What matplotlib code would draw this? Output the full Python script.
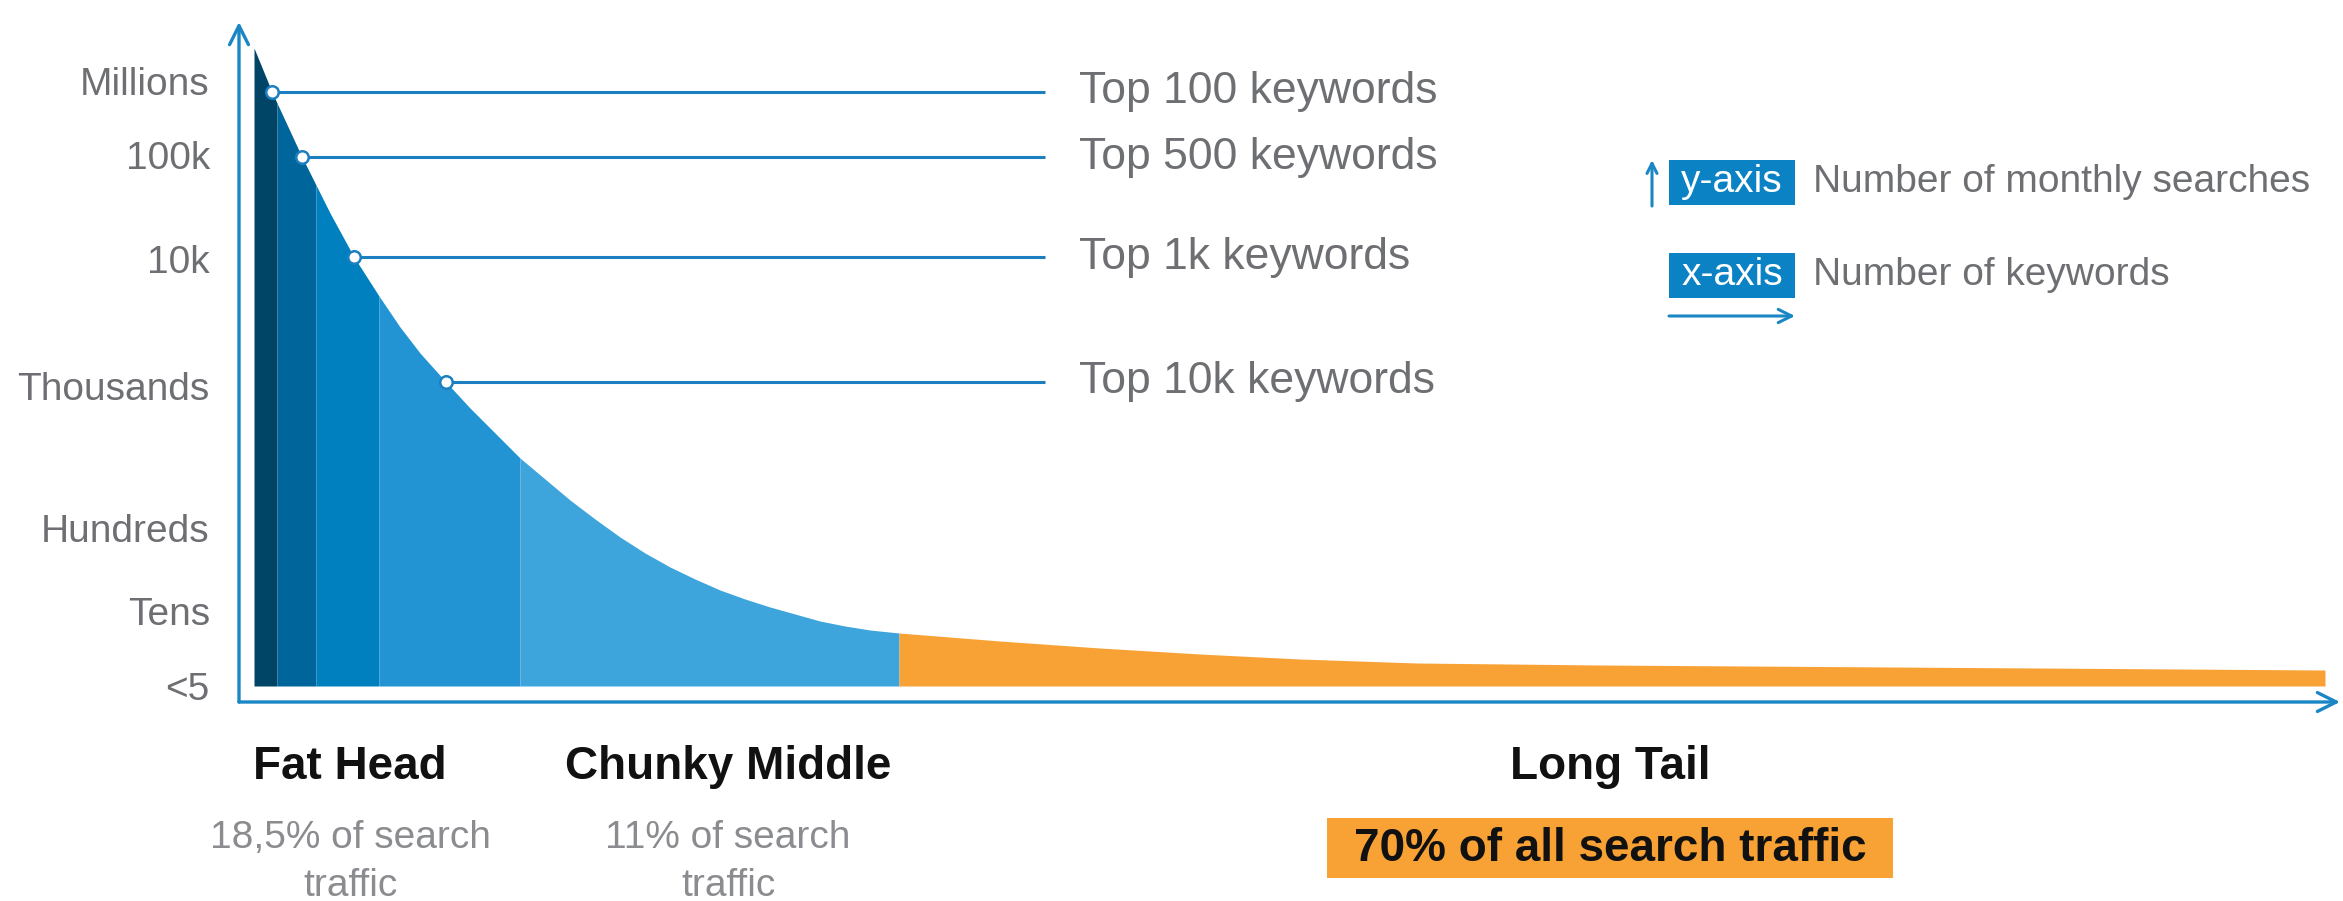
import matplotlib.pyplot as plt
from matplotlib.patches import Rectangle

plt.rcParams["font.family"] = ["Liberation Sans", "DejaVu Sans"]

# curve of searches per keyword (x: keywords, y: level above the x-axis)
curve_x = [15, 33, 38, 63, 77, 91, 115, 140, 161, 181, 207, 231, 256, 281, 306, 331,
           356, 381, 406, 431, 456, 481, 506, 531, 556, 581, 606, 631, 660,
           761, 861, 961, 1061, 1178, 1361, 1654, 2086]
curve_y = [654, 610, 599, 545, 517, 489, 445, 406, 375, 349, 320, 294, 269, 244, 223, 202,
           183, 165, 149, 135, 123, 112, 103, 95, 88, 81, 76, 72, 69,
           61, 54, 48, 43, 39, 37, 35, 32]
curve_base = 16

# coloured segments (start, end) along x
band_edges = [15, 38, 77, 140, 281, 660, 2086]
band_colors = ["#004466", "#00659a", "#0080bf", "#2394d3", "#3da4dc", "#f8a235"]

# y-axis levels
level_labels = ["<5", "Tens", "Hundreds", "Thousands", "10k", "100k", "Millions"]
level_pos = [16, 91, 174, 316, 443, 547, 621]

# keyword-group markers on the curve
marker_x = [33, 63, 115, 207]
marker_y = [610, 545, 445, 320]
marker_labels = ["Top 100 keywords", "Top 500 keywords", "Top 1k keywords", "Top 10k keywords"]

segment_names = ["Fat Head", "Chunky Middle", "Long Tail"]
segment_notes = ["18,5% of search\ntraffic", "11% of search\ntraffic", "70% of all search traffic"]

BLUE = "#1a86c4"
GRAY = "#6d6f72"
LIGHT_GRAY = "#8a8c8f"

W, H = 2343, 901
fig = plt.figure(figsize=(W / 100, H / 100), dpi=100)
fig.patch.set_facecolor("white")

# main chart axes: left edge at the y-axis line, bottom at the x-axis line
left, bottom, right, top = 239, 702, 2340, 22
ax = fig.add_axes([left / W, (H - bottom) / H, (right - left) / W, (bottom - top) / H])
ax.set_xlim(0, right - left)
ax.set_ylim(0, bottom - top)
for s in ax.spines.values():
    s.set_visible(False)
ax.set_xticks([])
ax.set_yticks(level_pos)
ax.set_yticklabels(level_labels, fontsize=28, color=GRAY)
ax.tick_params(axis="y", length=0, pad=21)

for i, c in enumerate(band_colors):
    a, b = band_edges[i], band_edges[i + 1]
    xs = [x for x in curve_x if a <= x <= b]
    ys = [y for x, y in zip(curve_x, curve_y) if a <= x <= b]
    ax.fill_between(xs, curve_base, ys, color=c, lw=0, zorder=2)

# axis arrows
arrow_kw = dict(arrowstyle="->", color=BLUE, lw=2.4, mutation_scale=34, shrinkA=0, shrinkB=0)
ax.annotate("", xy=(0, 1), xytext=(0, 0), xycoords="axes fraction",
            arrowprops=arrow_kw, annotation_clip=False)
ax.annotate("", xy=(1, 0), xytext=(0, 0), xycoords="axes fraction",
            arrowprops=arrow_kw, annotation_clip=False)

# leader lines with labels
line_end = 806
ax.hlines(marker_y, marker_x, line_end, color="#1b7fc0", lw=2.2, zorder=3)
ax.plot(marker_x, marker_y, "o", ms=9, mfc="white", mec="#1b7fc0", mew=1.8, zorder=4)
for y, lab in zip(marker_y, marker_labels):
    ax.text(840, y, lab, fontsize=32, color=GRAY, va="center", ha="left")

# overlay in pixel space for legend and captions
ov = fig.add_axes([0, 0, 1, 1])
ov.set_xlim(0, W)
ov.set_ylim(H, 0)
ov.axis("off")

# legend
small_arrow = dict(arrowstyle="->", color=BLUE, lw=2.2, shrinkA=0, shrinkB=0)
ov.annotate("", xy=(1652, 160), xytext=(1652, 206),
            arrowprops=dict(small_arrow, mutation_scale=18))
ov.annotate("", xy=(1795, 316), xytext=(1669, 316),
            arrowprops=dict(small_arrow, mutation_scale=24))
for y0, lab, desc in [(160, "y-axis", "Number of monthly searches"),
                      (253, "x-axis", "Number of keywords")]:
    ov.add_patch(Rectangle((1669, y0), 126, 45, color="#0b82c4", lw=0))
    ov.text(1732, y0 + 22, lab, fontsize=28, color="white", ha="center", va="center")
    ov.text(1813, y0 + 22, desc, fontsize=28, color=GRAY, ha="left", va="center")

# segment captions
name_x = [350, 728, 1610]
for x, name in zip(name_x, segment_names):
    ov.text(x, 767, name, fontsize=33, fontweight="bold", color="#111111",
            ha="center", va="center")
for x, note in zip(name_x[:2], segment_notes[:2]):
    ov.text(x, 862, note, fontsize=28, color=LIGHT_GRAY, ha="center", va="center",
            linespacing=1.4)
ov.add_patch(Rectangle((1327, 818), 566, 60, color="#f8a235", lw=0))
ov.text(1610, 849, segment_notes[2], fontsize=33, fontweight="bold", color="#111111",
        ha="center", va="center")

fig.savefig("out.png", dpi=100)
